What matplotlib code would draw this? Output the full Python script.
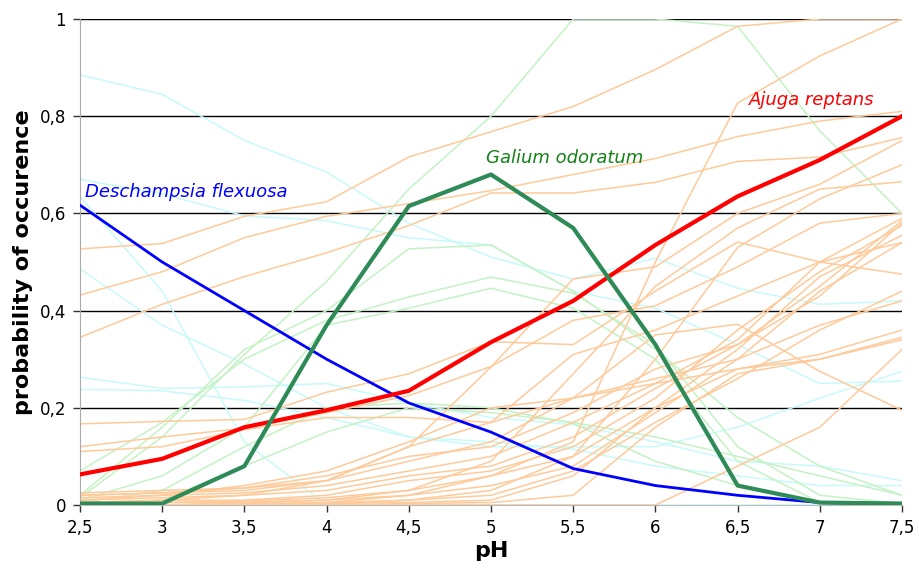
import matplotlib
matplotlib.use("Agg")
import matplotlib.pyplot as plt

ph = [2.5, 3, 3.5, 4, 4.5, 5, 5.5, 6, 6.5, 7, 7.5]
x_tick_labels = ["2,5", "3", "3,5", "4", "4,5", "5", "5,5", "6", "6,5", "7", "7,5"]
y_ticks = [0, 0.2, 0.4, 0.6, 0.8, 1.0]
y_tick_labels = ["0", "0,2", "0,4", "0,6", "0,8", "1"]

deschampsia = [0.617, 0.50, 0.40, 0.30, 0.21, 0.15, 0.075, 0.04, 0.02, 0.005, 0.003]
galium = [0.003, 0.003, 0.08, 0.37, 0.615, 0.68, 0.57, 0.33, 0.04, 0.005, 0.003]
ajuga = [0.063, 0.095, 0.16, 0.195, 0.235, 0.335, 0.42, 0.535, 0.635, 0.71, 0.80]

# faint background species: acidophilous (cyan)
cyan_species = [
    [0.885, 0.845, 0.75, 0.685, 0.58, 0.51, 0.465, 0.508, 0.446, 0.413, 0.42],
    [0.67, 0.64, 0.595, 0.585, 0.55, 0.535, 0.44, 0.405, 0.33, 0.25, 0.255],
    [0.635, 0.44, 0.13, 0.0, 0.0, 0.0, 0.0, 0.0, 0.0, 0.0, 0.0],
    [0.486, 0.37, 0.29, 0.20, 0.14, 0.12, 0.12, 0.12, 0.16, 0.22, 0.275],
    [0.263, 0.24, 0.243, 0.25, 0.21, 0.18, 0.165, 0.13, 0.09, 0.08, 0.05],
    [0.238, 0.235, 0.215, 0.18, 0.14, 0.13, 0.115, 0.08, 0.06, 0.04, 0.04],
]
# faint background species: intermediate (light green)
green_species = [
    [0.015, 0.14, 0.31, 0.46, 0.65, 0.80, 1.0, 1.0, 0.985, 0.77, 0.60],
    [0.02, 0.16, 0.32, 0.40, 0.527, 0.535, 0.44, 0.32, 0.18, 0.08, 0.02],
    [0.07, 0.17, 0.30, 0.38, 0.428, 0.469, 0.436, 0.33, 0.12, 0.02, 0.003],
    [0.01, 0.06, 0.16, 0.37, 0.405, 0.446, 0.405, 0.30, 0.09, 0.005, 0.003],
    [0.005, 0.03, 0.12, 0.20, 0.21, 0.20, 0.168, 0.09, 0.04, 0.005, 0.003],
    [0.0, 0.01, 0.08, 0.15, 0.20, 0.19, 0.17, 0.14, 0.10, 0.06, 0.02],
]
# faint background species: basiphilous (orange)
orange_species = [
    [0.527, 0.538, 0.594, 0.624, 0.716, 0.768, 0.82, 0.896, 0.985, 1.0, 1.0],
    [0.432, 0.48, 0.55, 0.594, 0.62, 0.647, 0.68, 0.713, 0.758, 0.79, 0.81],
    [0.345, 0.413, 0.47, 0.519, 0.575, 0.642, 0.642, 0.664, 0.707, 0.716, 0.756],
    [0.167, 0.172, 0.176, 0.232, 0.27, 0.336, 0.33, 0.44, 0.541, 0.50, 0.475],
    [0.12, 0.14, 0.158, 0.19, 0.225, 0.285, 0.38, 0.41, 0.49, 0.58, 0.60],
    [0.11, 0.12, 0.155, 0.18, 0.18, 0.17, 0.22, 0.35, 0.372, 0.275, 0.195],
    [0.025, 0.03, 0.035, 0.06, 0.10, 0.12, 0.19, 0.28, 0.33, 0.43, 0.58],
    [0.02, 0.025, 0.03, 0.05, 0.09, 0.13, 0.22, 0.26, 0.30, 0.37, 0.42],
    [0.015, 0.02, 0.025, 0.04, 0.07, 0.10, 0.17, 0.25, 0.34, 0.50, 0.59],
    [0.01, 0.015, 0.02, 0.03, 0.06, 0.08, 0.14, 0.24, 0.33, 0.45, 0.585],
    [0.005, 0.01, 0.01, 0.02, 0.05, 0.07, 0.12, 0.22, 0.36, 0.48, 0.575],
    [0.005, 0.005, 0.008, 0.015, 0.03, 0.06, 0.10, 0.20, 0.32, 0.47, 0.555],
    [0.0, 0.005, 0.005, 0.01, 0.02, 0.04, 0.08, 0.19, 0.30, 0.44, 0.54],
    [0.0, 0.0, 0.003, 0.005, 0.01, 0.02, 0.07, 0.17, 0.26, 0.36, 0.44],
    [0.0, 0.0, 0.0, 0.003, 0.005, 0.01, 0.06, 0.20, 0.28, 0.31, 0.36],
    [0.0, 0.0, 0.0, 0.0, 0.003, 0.005, 0.02, 0.16, 0.27, 0.30, 0.345],
    [0.0, 0.0, 0.0, 0.0, 0.0, 0.0, 0.0, 0.0, 0.08, 0.16, 0.32],
    [0.0, 0.0, 0.0, 0.005, 0.02, 0.06, 0.13, 0.50, 0.827, 0.924, 1.0],
    [0.0, 0.0, 0.0, 0.003, 0.01, 0.03, 0.10, 0.30, 0.53, 0.63, 0.70],
    [0.0, 0.0, 0.005, 0.01, 0.03, 0.09, 0.27, 0.45, 0.57, 0.65, 0.665],
    [0.02, 0.025, 0.035, 0.05, 0.12, 0.17, 0.31, 0.36, 0.43, 0.50, 0.54],
    [0.005, 0.01, 0.02, 0.05, 0.12, 0.284, 0.465, 0.49, 0.60, 0.66, 0.75],
    [0.01, 0.02, 0.04, 0.07, 0.13, 0.20, 0.22, 0.25, 0.28, 0.30, 0.34],
]

fig = plt.figure(figsize=(9.2, 5.75), dpi=100)
ax = fig.add_axes([80 / 920, 1 - 505 / 575, 822 / 920, 486 / 575])

for v in y_ticks[1:]:
    ax.axhline(v, color="black", lw=1.0, zorder=1)

for s in cyan_species:
    ax.plot(ph, s, color="#C8FAFA", lw=1.1, zorder=2)
for s in green_species:
    ax.plot(ph, s, color="#C4F2C4", lw=1.1, zorder=2)
for s in orange_species:
    ax.plot(ph, s, color="#FFCA9A", lw=1.1, zorder=2)

ax.plot(ph, deschampsia, color="#0000FF", lw=2.0, zorder=4)
ax.plot(ph, ajuga, color="#FF0000", lw=3.0, zorder=5)
ax.plot(ph, galium, color="#2E8B57", lw=3.0, zorder=6)

ax.text(2.53, 0.645, "Deschampsia flexuosa", color="#0000FF", style="italic",
        fontsize=13, ha="left", va="center", zorder=7)
ax.text(4.97, 0.713, "Galium odoratum", color="#148214", style="italic",
        fontsize=13, ha="left", va="center", zorder=7)
ax.text(6.57, 0.834, "Ajuga reptans", color="#FF0000", style="italic",
        fontsize=13, ha="left", va="center", zorder=7)

ax.set_xlim(2.5, 7.5)
ax.set_ylim(0, 1)
ax.set_xticks(ph)
ax.set_xticklabels(x_tick_labels, fontsize=12)
ax.set_yticks(y_ticks)
ax.set_yticklabels(y_tick_labels, fontsize=12)
ax.tick_params(axis="both", direction="out", length=5, width=1, color="#333333", pad=5)
for side in ["top", "right"]:
    ax.spines[side].set_visible(False)
ax.spines["left"].set_color("#AAAAAA")
ax.spines["bottom"].set_color("#BBBBBB")
ax.set_xlabel("pH", fontsize=16, fontweight="bold", labelpad=3)
ax.set_ylabel("probability of occurence", fontsize=16, fontweight="bold", labelpad=5)

fig.savefig("out.png", dpi=100)
